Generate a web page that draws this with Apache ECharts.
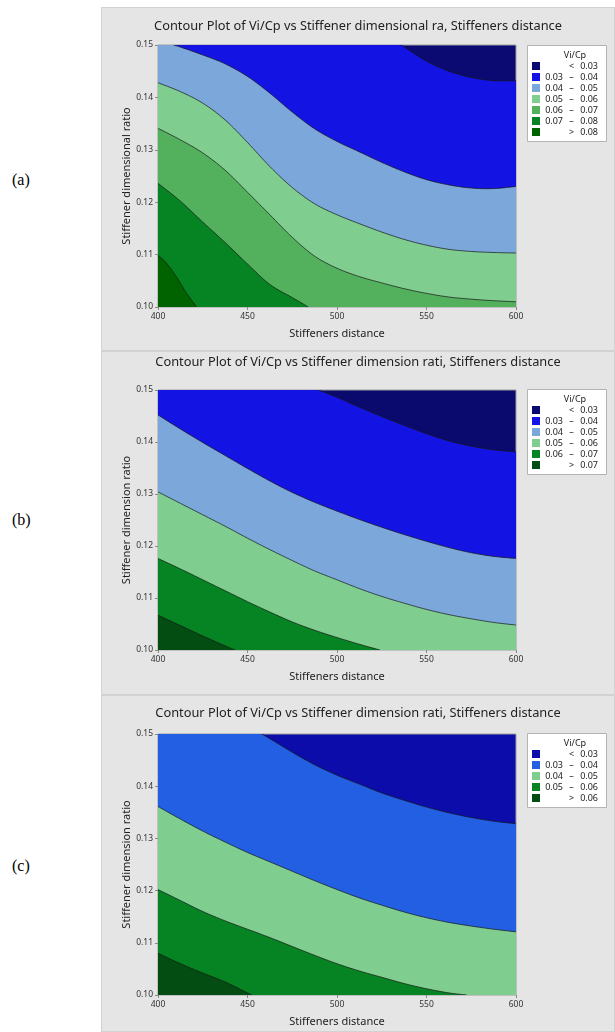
<!DOCTYPE html>
<html>
<head>
<meta charset="utf-8">
<script src="https://cdn.jsdelivr.net/npm/echarts@6/dist/echarts.min.js"></script>
<style>
  body { margin: 0; background: #fff; width: 615px; height: 1032px; position: relative; overflow: hidden; }
  .tag { position: absolute; left: 12px; font: 16px 'Liberation Serif', 'DejaVu Serif', serif; color: #000; }
  .panel { position: absolute; left: 101px; width: 514px; background: #e5e5e5; box-shadow: inset 0 0 0 1px #d2d2d2; }
</style>
</head>
<body>
<div class="tag" style="top:171px">(a)</div>
<div class="tag" style="top:511px">(b)</div>
<div class="tag" style="top:857px">(c)</div>
<div id="pa" class="panel" style="top:7px;height:344px"></div>
<div id="pb" class="panel" style="top:351px;height:344px"></div>
<div id="pc" class="panel" style="top:695px;height:337px"></div>
<script>
// axes
const xMin = 400, xMax = 600, xStep = 50
const yMin = 0.10, yMax = 0.15, yStep = 0.01
const xName = 'Stiffeners distance'

// (a)
const titleA = 'Contour Plot of Vi/Cp vs Stiffener dimensional ra, Stiffeners distance'
const yNameA = 'Stiffener dimensional ratio'
const levelsA = [0.03, 0.04, 0.05, 0.06, 0.07, 0.08]
// one contour line per level, [distance, ratio]
const linesA = [
  [[536, 0.15], [550, 0.1469], [562.5, 0.1450], [575, 0.1438], [587.5, 0.1432], [600, 0.1432]],
  [[408.6, 0.15], [412.5, 0.1496], [425, 0.1481], [437.5, 0.1464], [450, 0.1440], [462.5, 0.1408], [475, 0.1372], [487.5, 0.1340], [500, 0.1316], [512.5, 0.1296], [525, 0.1276], [537.5, 0.1258], [550, 0.1243], [562.5, 0.1233], [575, 0.1227], [587.5, 0.1226], [600, 0.1230]],
  [[400, 0.1428], [412.5, 0.1411], [425, 0.1389], [437.5, 0.1357], [450, 0.1314], [462.5, 0.1268], [475, 0.1228], [487.5, 0.1197], [500, 0.1176], [512.5, 0.1159], [525, 0.1143], [537.5, 0.1129], [550, 0.1118], [562.5, 0.1110], [575, 0.1106], [587.5, 0.1104], [600, 0.1103]],
  [[400, 0.1341], [412.5, 0.1319], [425, 0.1294], [437.5, 0.1261], [450, 0.1219], [462.5, 0.1176], [475, 0.1133], [487.5, 0.1097], [500, 0.1074], [512.5, 0.1058], [525, 0.1046], [537.5, 0.1035], [550, 0.1026], [562.5, 0.1019], [575, 0.1015], [587.5, 0.1012], [600, 0.1010]],
  [[400, 0.1236], [412.5, 0.1202], [425, 0.1162], [437.5, 0.1123], [450, 0.1082], [462.5, 0.1043], [475, 0.1018], [484, 0.10]],
  [[400, 0.1099], [404.9, 0.1083], [410.4, 0.1057], [416, 0.1026], [421.6, 0.10]]
]
const colorsA = ['#0a0a72', '#1313e3', '#7ba7da', '#80cd90', '#53b05d', '#068322', '#006300']

// (b)
const titleB = 'Contour Plot of Vi/Cp vs Stiffener dimension rati, Stiffeners distance'
const yNameB = 'Stiffener dimension ratio'
const levelsB = [0.03, 0.04, 0.05, 0.06, 0.07]
const linesB = [
  [[489.6, 0.15], [500, 0.1486], [512.5, 0.1467], [525, 0.1449], [537.5, 0.1432], [550, 0.1416], [562.5, 0.1402], [575, 0.1392], [587.5, 0.1385], [600, 0.1381]],
  [[400, 0.1452], [412.5, 0.1425], [425, 0.1399], [437.5, 0.1374], [450, 0.1349], [462.5, 0.1325], [475, 0.1303], [487.5, 0.1284], [500, 0.1267], [512.5, 0.1251], [525, 0.1236], [537.5, 0.1222], [550, 0.1209], [562.5, 0.1197], [575, 0.1187], [587.5, 0.1180], [600, 0.1176]],
  [[400, 0.1304], [412.5, 0.1282], [425, 0.1260], [437.5, 0.1238], [450, 0.1215], [462.5, 0.1193], [475, 0.1172], [487.5, 0.1152], [500, 0.1135], [512.5, 0.1118], [525, 0.1103], [537.5, 0.1090], [550, 0.1078], [562.5, 0.1068], [575, 0.1060], [587.5, 0.1053], [600, 0.1048]],
  [[400, 0.1176], [412.5, 0.1156], [425, 0.1135], [437.5, 0.1114], [450, 0.1093], [462.5, 0.1073], [475, 0.1054], [487.5, 0.1038], [500, 0.1024], [512.5, 0.1011], [524, 0.10]],
  [[400, 0.1067], [412.5, 0.1047], [425, 0.1027], [437.5, 0.1008], [443, 0.10]]
]
const colorsB = ['#0a0a6e', '#1313e3', '#7ba7da', '#80cd90', '#068322', '#034d12']

// (c)
const titleC = 'Contour Plot of Vi/Cp vs Stiffener dimension rati, Stiffeners distance'
const yNameC = 'Stiffener dimension ratio'
const levelsC = [0.03, 0.04, 0.05, 0.06]
const linesC = [
  [[457.9, 0.15], [462.5, 0.1491], [475, 0.1465], [487.5, 0.1441], [500, 0.1421], [512.5, 0.1404], [525, 0.1387], [537.5, 0.1373], [550, 0.1360], [562.5, 0.1349], [575, 0.1340], [587.5, 0.1333], [600, 0.1328]],
  [[400, 0.1361], [412.5, 0.1337], [425, 0.1314], [437.5, 0.1293], [450, 0.1273], [462.5, 0.1255], [475, 0.1237], [487.5, 0.1219], [500, 0.1202], [512.5, 0.1186], [525, 0.1172], [537.5, 0.1159], [550, 0.1148], [562.5, 0.1139], [575, 0.1132], [587.5, 0.1126], [600, 0.1121]],
  [[400, 0.1202], [412.5, 0.1181], [425, 0.1160], [437.5, 0.1142], [450, 0.1126], [462.5, 0.1110], [475, 0.1093], [487.5, 0.1076], [500, 0.1060], [512.5, 0.1046], [525, 0.1034], [537.5, 0.1022], [550, 0.1012], [562.5, 0.1004], [572.4, 0.10]],
  [[400, 0.1080], [412.5, 0.1060], [425, 0.1042], [437.5, 0.1025], [452.3, 0.10]]
]
const colorsC = ['#0c0caa', '#225fe2', '#80cd90', '#068322', '#034d12']

const font = 'Noto Sans'

// smooth the read points in pixel space so the contour looks like the Minitab curve
function spline(pts, steps) {
  if (pts.length < 3) return pts
  const out = []
  for (let i = 0; i < pts.length - 1; i++) {
    const p0 = pts[Math.max(i - 1, 0)], p1 = pts[i], p2 = pts[i + 1], p3 = pts[Math.min(i + 2, pts.length - 1)]
    for (let s = 0; s < steps; s++) {
      const t = s / steps, t2 = t * t, t3 = t2 * t
      out.push([0, 1].map(k => 0.5 * (2 * p1[k] + (p2[k] - p0[k]) * t +
        (2 * p0[k] - 5 * p1[k] + 4 * p2[k] - p3[k]) * t2 + (3 * p1[k] - p0[k] - 3 * p2[k] + p3[k]) * t3)))
    }
  }
  out.push(pts[pts.length - 1])
  return out
}

function legendItems(levels, colors) {
  const rowY = i => 59 + 11 * i
  const n = levels.length + 1
  const txt = (x, y, text, align) => ({
    type: 'text', x, y, silent: true,
    style: { text, fontFamily: font, fontSize: 9, fill: '#222', align, textAlign: align, verticalAlign: 'middle', textVerticalAlign: 'middle' }
  })
  const els = [
    { type: 'rect', shape: { x: 426.5, y: 38.5, width: 79, height: 21 + 11 * (n - 1) + 9 }, style: { fill: '#fff', stroke: '#b4b4b4', lineWidth: 1 }, silent: true },
    txt(474, 48, 'Vi/Cp', 'center')
  ]
  for (let i = 0; i < n; i++) {
    const y = rowY(i)
    els.push({ type: 'rect', shape: { x: 431, y: y - 4, width: 8, height: 8 }, style: { fill: colors[i] }, silent: true })
    if (i === 0) {
      els.push(txt(470.5, y, '<', 'center'), txt(497, y, levels[0].toFixed(2), 'right'))
    } else if (i === n - 1) {
      els.push(txt(470.5, y, '>', 'center'), txt(497, y, levels[n - 2].toFixed(2), 'right'))
    } else {
      els.push(txt(462, y, levels[i - 1].toFixed(2), 'right'), txt(470.5, y, '–', 'center'), txt(497, y, levels[i].toFixed(2), 'right'))
    }
  }
  return els
}

function makeChart(el, cfg) {
  const chart = echarts.init(document.getElementById(el), null, { renderer: 'canvas' })
  const nameStyle = { fontFamily: font, fontSize: 11, color: '#222' }
  const labelStyle = { fontFamily: font, fontSize: 8.5, color: '#333' }
  chart.setOption({
    animation: false,
    title: {
      text: cfg.title, left: 'center', top: cfg.titleTop, padding: 0,
      textStyle: { fontFamily: font, fontSize: 12.8, fontWeight: 'normal', color: '#222' }
    },
    grid: {
      left: 57, width: 358, top: cfg.gridTop, height: cfg.gridHeight,
      show: true, backgroundColor: cfg.colors[0], borderColor: '#9c9c9c', borderWidth: 1
    },
    xAxis: {
      type: 'value', min: xMin, max: xMax, interval: xStep,
      name: xName, nameLocation: 'middle', nameGap: 21, nameMoveOverlap: false, nameTextStyle: nameStyle,
      axisLine: { show: false },
      axisTick: { show: true, length: 3, lineStyle: { color: '#8a8a8a' } },
      axisLabel: { ...labelStyle, margin: 5 },
      splitLine: { show: false }
    },
    yAxis: {
      type: 'value', min: yMin, max: yMax, interval: yStep,
      name: cfg.yName, nameLocation: 'middle', nameGap: 26, nameMoveOverlap: false, nameTextStyle: nameStyle,
      axisLine: { show: false },
      axisTick: { show: true, length: 3, lineStyle: { color: '#8a8a8a' } },
      axisLabel: { ...labelStyle, margin: 5, formatter: v => v.toFixed(2) },
      splitLine: { show: false }
    },
    graphic: legendItems(cfg.levels, cfg.colors),
    series: [{
      type: 'custom',
      clip: true,
      data: cfg.lines.map(l => l[0]),
      renderItem: (params, api) => {
        const line = cfg.lines[params.dataIndex]
        const first = line[0], last = line[line.length - 1]
        const curve = spline(line.map(p => api.coord(p)), 8)
        // close the region holding the higher values (toward the lower left corner)
        const corners = [[last[0], yMin], [xMin, yMin], [xMin, first[1]]].map(p => api.coord(p))
        return {
          type: 'group',
          children: [
            { type: 'polygon', shape: { points: curve.concat(corners) }, style: { fill: cfg.colors[params.dataIndex + 1] } },
            { type: 'polyline', shape: { points: curve }, style: { stroke: '#151515', lineWidth: 0.7, fill: null } }
          ]
        }
      }
    }]
  })
  return chart
}

makeChart('pa', { title: titleA, yName: yNameA, levels: levelsA, lines: linesA, colors: colorsA, titleTop: 13, gridTop: 38, gridHeight: 262 })
makeChart('pb', { title: titleB, yName: yNameB, levels: levelsB, lines: linesB, colors: colorsB, titleTop: 5, gridTop: 39, gridHeight: 260 })
makeChart('pc', { title: titleC, yName: yNameC, levels: levelsC, lines: linesC, colors: colorsC, titleTop: 12, gridTop: 39, gridHeight: 261 })
</script>
</body>
</html>
